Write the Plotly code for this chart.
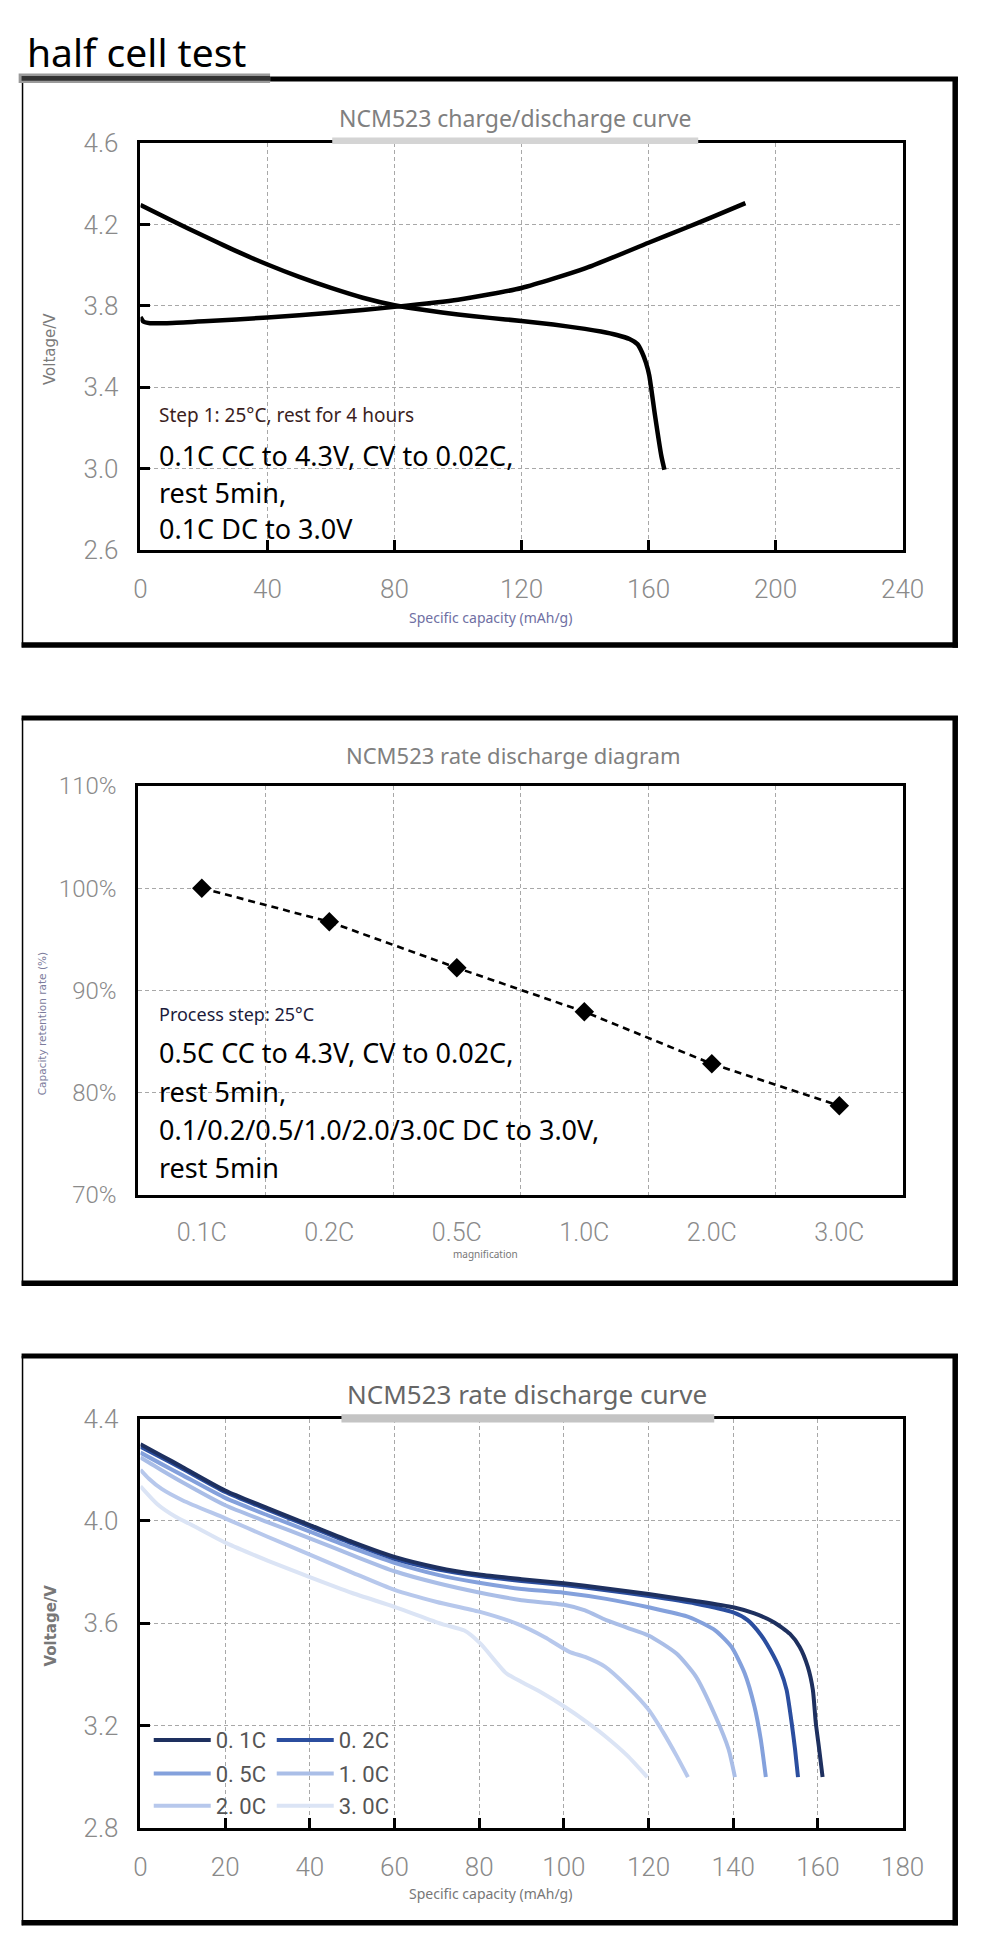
import plotly.graph_objects as go

W, H = 994, 1954

def px(x):
    return x / W

def py(y):
    return 1 - y / H

# ---------------- Chart 1 data: NCM523 charge/discharge curve ----------------
charge_cap = [0, 1, 3, 10, 20, 40, 60, 80, 100, 120, 140, 160, 172, 180, 190.5]
charge_v = [3.745, 3.722, 3.715, 3.716, 3.724, 3.743, 3.766, 3.795, 3.830, 3.888, 3.984, 4.110, 4.185, 4.236, 4.305]

discharge_cap = [0, 10, 20, 30, 40, 50, 60, 70, 80, 90, 100, 110, 120, 130, 140, 145, 150,
                 154, 156.5, 158, 159.2, 160.2, 162, 164, 165]
discharge_v = [4.296, 4.218, 4.143, 4.070, 4.003, 3.942, 3.888, 3.840, 3.803, 3.778, 3.758, 3.741,
               3.726, 3.708, 3.687, 3.674, 3.657, 3.637, 3.612, 3.570, 3.520, 3.460, 3.265, 3.065, 2.995]

x1_ticks = [0, 40, 80, 120, 160, 200, 240]
y1_ticks = [2.6, 3.0, 3.4, 3.8, 4.2, 4.6]

# ---------------- Chart 2 data: NCM523 rate discharge diagram ----------------
rate_labels = ["0.1C", "0.2C", "0.5C", "1.0C", "2.0C", "3.0C"]
retention = [100.0, 96.7, 92.2, 87.9, 82.8, 78.7]
y2_ticks = [70, 80, 90, 100, 110]
y2_ticktext = ["70%", "80%", "90%", "100%", "110%"]

# ---------------- Chart 3 data: NCM523 rate discharge curve ----------------
series_names = ["0. 1C", "0. 2C", "0. 5C", "1. 0C", "2. 0C", "3. 0C"]
series_colors = ["#1e305f", "#2b4e9f", "#84a1dc", "#aabee7", "#b7c8ec", "#dbe4f5"]

cap_01 = [0, 5, 10, 20, 30, 40, 50, 60, 70, 80, 90, 100, 110, 120, 131, 140, 145, 149.6,
          153.4, 155.7, 157.6, 158.8, 159.5, 160.3, 161.1]
v_01 = [4.300, 4.255, 4.210, 4.119, 4.050, 3.984, 3.918, 3.859, 3.818, 3.790, 3.772, 3.756,
        3.736, 3.714, 3.687, 3.662, 3.638, 3.604, 3.558, 3.507, 3.430, 3.340, 3.210, 3.107, 2.998]

cap_02 = [0, 5, 10, 20, 30, 40, 50, 60, 70, 80, 90, 100, 110, 120, 131, 140, 143.4, 146.5,
          148.8, 151.1, 152.6, 153.8, 154.6, 155.3]
v_02 = [4.290, 4.247, 4.203, 4.113, 4.044, 3.978, 3.912, 3.852, 3.811, 3.784, 3.765, 3.749,
        3.729, 3.706, 3.677, 3.642, 3.612, 3.555, 3.494, 3.417, 3.339, 3.210, 3.107, 2.998]

cap_05 = [0, 5, 10, 20, 30, 40, 50, 60, 70, 80, 90, 100, 110, 120, 129.7, 135.8, 139.6,
          142.7, 145, 146.5, 147.7]
v_05 = [4.267, 4.222, 4.178, 4.090, 4.022, 3.958, 3.894, 3.836, 3.790, 3.758, 3.734, 3.719,
        3.695, 3.662, 3.623, 3.571, 3.507, 3.404, 3.275, 3.146, 2.998]

cap_10 = [0, 5, 10, 20, 30, 40, 50, 60, 70, 80, 90, 100, 105, 110, 115, 120, 126.6, 131.2,
          135.8, 138.9, 140.4]
v_10 = [4.248, 4.198, 4.150, 4.061, 3.995, 3.932, 3.866, 3.803, 3.757, 3.720, 3.690, 3.672,
        3.650, 3.612, 3.582, 3.552, 3.481, 3.391, 3.236, 3.107, 2.998]

cap_20 = [0, 2, 5, 10, 20, 30, 40, 50, 60, 70, 80, 89, 95.5, 101.3, 105, 109.7, 115, 120,
          123.5, 126.6, 129.3]
v_20 = [4.200, 4.165, 4.125, 4.080, 4.010, 3.938, 3.868, 3.798, 3.730, 3.683, 3.645, 3.597,
        3.545, 3.488, 3.468, 3.430, 3.352, 3.262, 3.172, 3.082, 2.998]

cap_30 = [0, 4, 8.3, 12, 20.3, 30, 40.3, 50, 60.3, 71.1, 76.5, 80.3, 86.4, 90, 94.9, 100,
          105.1, 109.7, 115, 119.7]
v_30 = [4.135, 4.065, 4.016, 3.985, 3.913, 3.845, 3.778, 3.718, 3.662, 3.597, 3.571, 3.520,
        3.404, 3.370, 3.327, 3.275, 3.217, 3.159, 3.082, 2.998]

x3_ticks = [0, 20, 40, 60, 80, 100, 120, 140, 160, 180]
y3_ticks = [2.8, 3.2, 3.6, 4.0, 4.4]

series_caps = [cap_01, cap_02, cap_05, cap_10, cap_20, cap_30]
series_vs = [v_01, v_02, v_05, v_10, v_20, v_30]
series_legends = ["legend", "legend", "legend2", "legend2", "legend3", "legend3"]

# ---------------- Figure ----------------
fig = go.Figure()

fig.add_trace(go.Scatter(x=charge_cap, y=charge_v, mode="lines", xaxis="x", yaxis="y",
                         line=dict(color="black", width=4.5, shape="spline", smoothing=0.6),
                         showlegend=False, name="charge"))
fig.add_trace(go.Scatter(x=discharge_cap, y=discharge_v, mode="lines", xaxis="x", yaxis="y",
                         line=dict(color="black", width=4.5, shape="spline", smoothing=0.6),
                         showlegend=False, name="discharge"))

fig.add_trace(go.Scatter(x=rate_labels, y=retention, mode="lines+markers", xaxis="x2", yaxis="y2",
                         line=dict(color="black", width=2.6, dash="7px,5px"),
                         marker=dict(symbol="diamond", size=15, color="black"),
                         showlegend=False, name="retention"))

for i in reversed(range(6)):
    fig.add_trace(go.Scatter(x=series_caps[i], y=series_vs[i], mode="lines",
                             xaxis="x3", yaxis="y3", name=series_names[i],
                             line=dict(color=series_colors[i], width=4, shape="spline", smoothing=0.6),
                             legend=series_legends[i], legendrank=i + 1))

tickfont = dict(family="Roboto", size=26, color="#8a8a8a", weight=300)
common = dict(showline=True, linecolor="black", linewidth=2.5, mirror=True,
              showgrid=True, gridcolor="#a8a8a8", gridwidth=1, griddash="4px,3px",
              zeroline=False, tickfont=tickfont, fixedrange=True)

PL, PR = 137.5, 922.5

fig.update_layout(
    width=W, height=H, margin=dict(l=0, r=0, t=0, b=0),
    paper_bgcolor="white", plot_bgcolor="white",
    xaxis=dict(domain=[px(PL), px(PR)], anchor="y", range=[0, 240], tickvals=x1_ticks,
               ticks="inside", ticklen=10, tickwidth=2.5, tickcolor="black",
               ticklabelstandoff=14, **common),
    yaxis=dict(domain=[py(543.5), py(130)], anchor="x", range=[2.6, 4.6], tickvals=y1_ticks,
               tickformat=".1f", ticks="inside", ticklen=10, tickwidth=2.5, tickcolor="black",
               ticklabelstandoff=14, **common),
    xaxis2=dict(domain=[px(135), px(923)], anchor="y2", type="category", tickson="boundaries",
                range=[-0.5, 5.5], ticks="", ticklabelstandoff=14,
                **{**common, "tickfont": dict(family="Roboto", size=25, color="#8a8a8a", weight=300)}),
    yaxis2=dict(domain=[py(1198), py(783)], anchor="x2", range=[70, 110], tickvals=y2_ticks,
                ticktext=y2_ticktext, ticks="", ticklabelstandoff=14,
                **{**common, "tickfont": dict(family="Roboto", size=24, color="#8a8a8a", weight=300)}),
    xaxis3=dict(domain=[px(PL), px(PR)], anchor="y3", range=[0, 180], tickvals=x3_ticks,
                ticks="inside", ticklen=10, tickwidth=2.5, tickcolor="black",
                ticklabelstandoff=14, **common),
    yaxis3=dict(domain=[py(1841), py(1425.5)], anchor="x3", range=[2.8, 4.4], tickvals=y3_ticks,
                tickformat=".1f", ticks="inside", ticklen=10, tickwidth=2.5, tickcolor="black",
                ticklabelstandoff=14, **common),
    showlegend=True,
)

legend_common = dict(orientation="h", xanchor="left", yanchor="middle", bgcolor="rgba(0,0,0,0)",
                     font=dict(family="Roboto", size=22, color="#555555"),
                     itemwidth=57, entrywidth=51, entrywidthmode="pixels",
                     itemclick=False, itemdoubleclick=False)
fig.update_layout(
    legend=dict(x=px(146), y=py(1752), **legend_common),
    legend2=dict(x=px(146), y=py(1786), **legend_common),
    legend3=dict(x=px(146), y=py(1819), **legend_common),
)

# ---------------- Frames and decorations ----------------
shapes = []
def line(x0, y0, x1, y1, w, color="black"):
    shapes.append(dict(type="line", xref="paper", yref="paper", x0=px(x0), y0=py(y0),
                       x1=px(x1), y1=py(y1), line=dict(color=color, width=w), layer="above"))

def rect(x0, y0, x1, y1, color):
    shapes.append(dict(type="rect", xref="paper", yref="paper", x0=px(x0), y0=py(y0),
                       x1=px(x1), y1=py(y1), fillcolor=color, line=dict(width=0), layer="above"))

# frame 1
line(271, 65, 979.5, 65, 5)
line(976.7, 63, 976.7, 642.5, 5.5)
line(15, 639.7, 979.5, 639.7, 5.5)
line(16, 66, 16, 642, 1.5)
rect(12, 59.5, 271, 69, "#9a9a9a")
rect(15, 62, 271, 66.8, "#333333")
rect(335, 124.5, 712, 131, "#d4d4d4")

# frame 2
line(15, 714, 979.5, 714, 5)
line(976.7, 712, 976.7, 1290.5, 5.5)
line(15, 1288, 979.5, 1288, 5.5)
line(16, 714, 16, 1290, 1.5)

# frame 3
line(15, 1362, 979.5, 1362, 5)
line(976.7, 1360, 976.7, 1940, 5.5)
line(15, 1937.5, 979.5, 1937.5, 5.5)
line(16, 1362, 16, 1940, 1.5)
rect(344.5, 1421, 728.5, 1429.5, "#c4c4c4")

fig.update_layout(shapes=shapes)

# ---------------- Texts ----------------
ann = []
def text(t, x, y, size, color, family="Noto Sans", xanchor="left", angle=0, weight=None):
    f = dict(family=family, size=size, color=color)
    if weight:
        f["weight"] = weight
    ann.append(dict(text=t, x=px(x), y=py(y), xref="paper", yref="paper", showarrow=False,
                    xanchor=xanchor, yanchor="middle", textangle=angle, font=f))

text("half cell test", 19, 37, 39, "#000000")

text("NCM523 charge/discharge curve", 523, 105, 23, "#808080", xanchor="center")
text("Voltage/V", 44.5, 339, 15, "#7a7a7a", family="DejaVu Sans", xanchor="center", angle=-90)
text("Specific capacity (mAh/g)", 498, 612, 14, "#6f6fa3", xanchor="center")
text("Step 1: 25°C, rest for 4 hours", 155, 406, 19, "#3b1e1e")
text("0.1C CC to 4.3V, CV to 0.02C,", 155, 447, 27, "#000000")
text("rest 5min,", 155, 485, 27, "#000000")
text("0.1C DC to 3.0V", 155, 522, 27, "#000000")

text("NCM523 rate discharge diagram", 522, 752, 22, "#808080", xanchor="center")
text("Capacity retention rate (%)", 36, 1024, 10.5, "#7c7c9c", family="DejaVu Sans",
     xanchor="center", angle=-90)
text("magnification", 493, 1258.5, 10, "#777777", xanchor="center")
text("Process step: 25°C", 155, 1015, 18, "#1c1c3c")
text("0.5C CC to 4.3V, CV to 0.02C,", 155, 1054, 27, "#000000")
text("rest 5min,", 155, 1093, 27, "#000000")
text("0.1/0.2/0.5/1.0/2.0/3.0C DC to 3.0V,", 155, 1132, 27, "#000000")
text("rest 5min", 155, 1170, 27, "#000000")

text("NCM523 rate discharge curve", 536, 1401, 26, "#666666", xanchor="center")
text("Voltage/V", 45, 1636, 15, "#777777", family="DejaVu Sans", xanchor="center", angle=-90,
     weight="bold")
text("Specific capacity (mAh/g)", 498, 1908, 14, "#777777", xanchor="center")

fig.update_layout(annotations=ann)

fig.write_html("out.html", config={"displayModeBar": False},
               post_script="document.body.style.margin='0';document.body.style.overflow='hidden';")
